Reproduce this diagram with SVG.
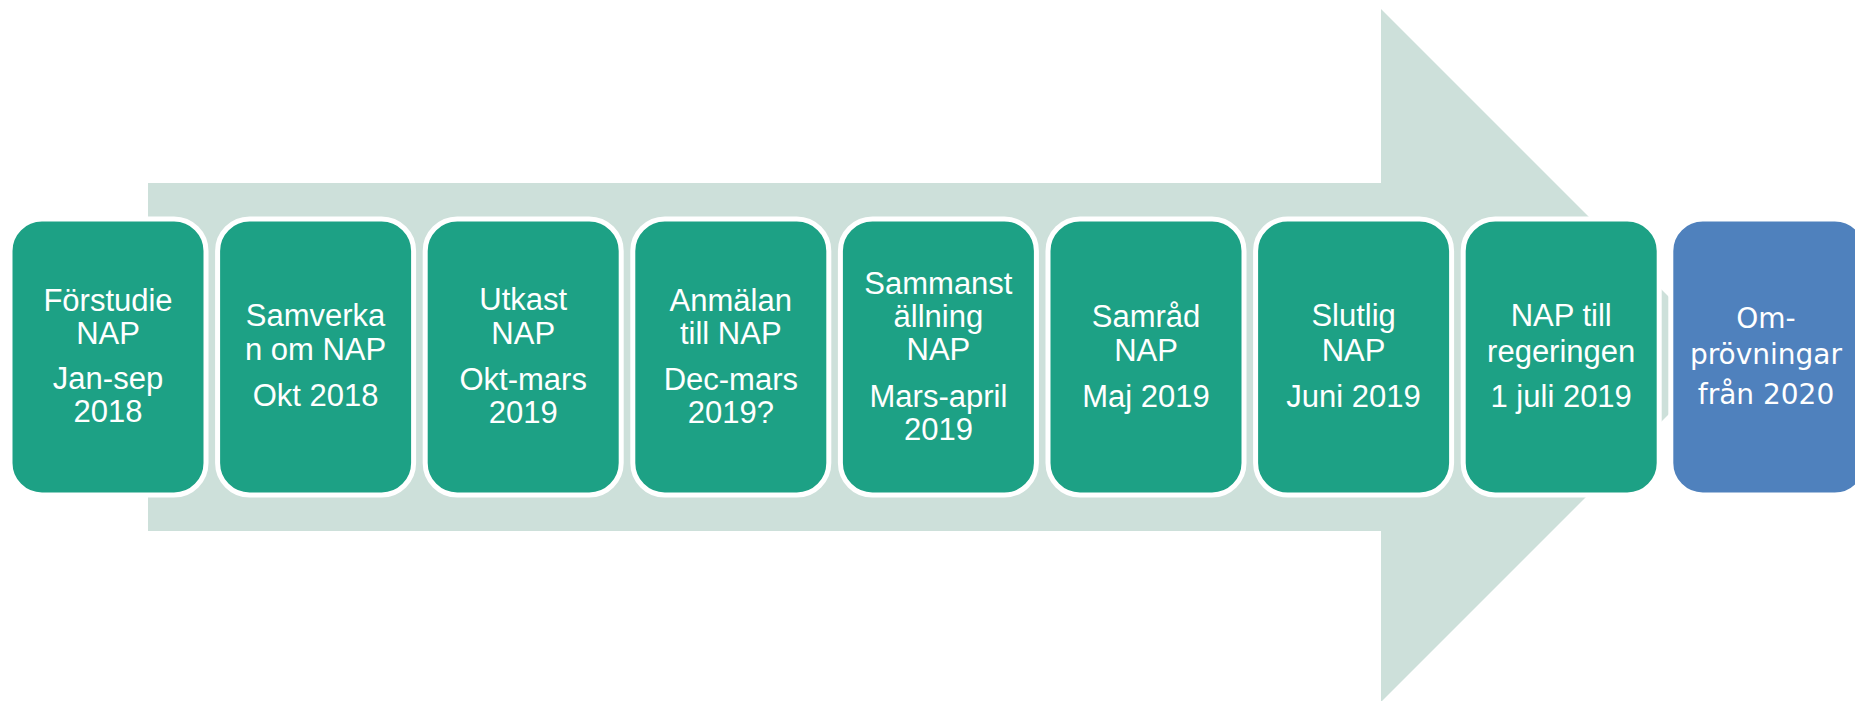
<svg xmlns="http://www.w3.org/2000/svg" width="1855" height="701" viewBox="0 0 1855 701">
<style>
.box{fill:#1DA185;stroke:#FFFFFF;stroke-width:5}
.blue{fill:#4F81BD;stroke:#FFFFFF;stroke-width:5}
.t{font-family:"Liberation Sans",Arial,sans-serif;font-size:31px;fill:#FFFFFF;text-anchor:middle}
.t2{font-family:"DejaVu Sans",Verdana,sans-serif;font-size:28px;fill:#FFFFFF;text-anchor:middle}
</style>
<rect width="1855" height="701" fill="#FFFFFF"/>
<g id="arrow">
<polygon points="148,183 1381,183 1381,9 1727.5,355.5 1381,702 1381,531 148,531" fill="#CDE0DA"/>
</g>
<g id="connectors"></g>
<g id="n1"><rect class="box" x="10" y="219" width="196" height="276" rx="32"/>
<text class="t"><tspan x="108" y="311">Förstudie</tspan><tspan x="108" y="344">NAP</tspan><tspan x="108" y="389">Jan-sep</tspan><tspan x="108" y="422">2018</tspan></text></g>
<g id="n2"><rect class="box" x="217.6" y="219" width="196" height="276" rx="32"/>
<text class="t"><tspan x="315.6" y="326">Samverka</tspan><tspan x="315.6" y="360">n om NAP</tspan><tspan x="315.6" y="406">Okt 2018</tspan></text></g>
<g id="n3"><rect class="box" x="425.2" y="219" width="196" height="276" rx="32"/>
<text class="t"><tspan x="523.2" y="310">Utkast</tspan><tspan x="523.2" y="344">NAP</tspan><tspan x="523.2" y="390">Okt-mars</tspan><tspan x="523.2" y="423">2019</tspan></text></g>
<g id="n4"><rect class="box" x="632.8" y="219" width="196" height="276" rx="32"/>
<text class="t"><tspan x="730.8" y="311">Anmälan</tspan><tspan x="730.8" y="344">till NAP</tspan><tspan x="730.8" y="390">Dec-mars</tspan><tspan x="730.8" y="423">2019?</tspan></text></g>
<g id="n5"><rect class="box" x="840.4" y="219" width="196" height="276" rx="32"/>
<text class="t"><tspan x="938.4" y="294">Sammanst</tspan><tspan x="938.4" y="327">ällning</tspan><tspan x="938.4" y="360">NAP</tspan><tspan x="938.4" y="407">Mars-april</tspan><tspan x="938.4" y="440">2019</tspan></text></g>
<g id="n6"><rect class="box" x="1048" y="219" width="196" height="276" rx="32"/>
<text class="t"><tspan x="1146" y="327">Samråd</tspan><tspan x="1146" y="361">NAP</tspan><tspan x="1146" y="407">Maj 2019</tspan></text></g>
<g id="n7"><rect class="box" x="1255.6" y="219" width="196" height="276" rx="32"/>
<text class="t"><tspan x="1353.6" y="326">Slutlig</tspan><tspan x="1353.6" y="361">NAP</tspan><tspan x="1353.6" y="407">Juni 2019</tspan></text></g>
<g id="n8"><rect class="box" x="1463.2" y="219" width="196" height="276" rx="32"/>
<text class="t"><tspan x="1561.2" y="326">NAP till</tspan><tspan x="1561.2" y="362">regeringen</tspan><tspan x="1561.2" y="407">1 juli 2019</tspan></text></g>
<g id="n9"><rect class="blue" x="1670.8" y="219" width="196" height="276" rx="32"/>
<text class="t2"><tspan x="1766" y="328">Om-</tspan><tspan x="1766" y="364">prövningar</tspan><tspan x="1766" y="404">från 2020</tspan></text></g>
</svg>
